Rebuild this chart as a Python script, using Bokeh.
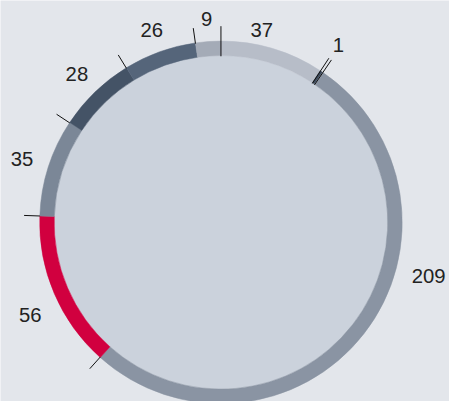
import math
from bokeh.plotting import figure
from bokeh.models import ColumnDataSource
from bokeh.embed import file_html
from bokeh.resources import INLINE
from bokeh.core.properties import value

# ---- data ----
slice_labels = ["37", "1", "209", "56", "35", "28", "26", "9"]
slice_values = [37, 1, 209, 56, 35, 28, 26, 9]
slice_colors = ["#b7bdc8", "#3f4d5f", "#8a94a3", "#d1003f",
                "#7b8797", "#445366", "#55657a", "#a4abb7"]

# ---- layout / style ----
BG = "#e3e6eb"
DISC = "#cbd2dc"
W, H = 449, 401                 # canvas size (fits the window with its margin)
VW, VH = 465.0, 417.0           # drawing units across the canvas
CX, CY = 228.3, 230.7           # ring centre in drawing units (from top-left)
SCALE = W / VW
R_OUT = 187.7
R_IN = R_OUT - 15
R_TICK = 204
FS = 21                         # font size in drawing units
THROUGH = {0, 1, 2}             # separators drawn across the ring
# label nudges for crowded / overflowing labels: index -> (angle delta deg, radius delta)
NUDGE = {0: (-4.7, -7), 1: (-0.3, 8), 2: (-23.5, 0), 3: (-3.0, 3)}

total = float(sum(slice_values))
starts, ends = [], []
acc = 0.0
for v in slice_values:
    starts.append(acc)
    acc += v / total * 360.0
    ends.append(acc)


def pol(theta_deg, r):
    t = math.radians(theta_deg)
    return r * math.sin(t), r * math.cos(t)


p = figure(width=W, height=H, x_range=(-CX, VW - CX), y_range=(CY - VH, CY),
           output_backend="svg", toolbar_location=None,
           x_axis_type=None, y_axis_type=None, min_border=0)
p.background_fill_color = BG
p.border_fill_color = BG
p.outline_line_color = None
p.grid.visible = False

# inner disc
p.circle(x=[0], y=[0], radius=R_IN, fill_color=DISC, line_color=None)

# ring
ring = ColumnDataSource(dict(
    start=[math.radians(90 - s) for s in starts],
    end=[math.radians(90 - e) for e in ends],
    color=slice_colors,
))
p.annular_wedge(x=0, y=0, inner_radius=R_IN, outer_radius=R_OUT,
                start_angle="start", end_angle="end", direction="clock",
                fill_color="color", line_color="color", line_width=0.5, source=ring)

# separator ticks
x0, y0, x1, y1 = [], [], [], []
for i, s in enumerate(starts):
    r0 = R_IN if i in THROUGH else R_OUT
    a, b = pol(s, r0)
    c, d = pol(s, R_TICK)
    x0.append(a); y0.append(b); x1.append(c); y1.append(d)
p.segment(x0=x0, y0=y0, x1=x1, y1=y1, line_color="#111111", line_width=1)

# labels
lx, ly = [], []
for i, lab in enumerate(slice_labels):
    mid = (starts[i] + ends[i]) / 2.0
    da, dr = NUDGE.get(i, (0.0, 0.0))
    th = mid + da
    w = len(lab) * 0.556 * FS
    h = 0.74 * FS
    t = math.radians(th)
    sx, cx = abs(math.sin(t)), abs(math.cos(t))
    ext = min((w / 2) / sx if sx > 1e-6 else 1e9, (h / 2) / cx if cx > 1e-6 else 1e9)
    px, py = pol(th, R_TICK + ext + dr)
    lx.append(px); ly.append(py)

p.text(x=lx, y=ly, text=slice_labels, text_align="center", text_baseline="middle",
       text_font=value("Liberation Sans"), text_font_size=f"{FS * SCALE:.1f}px",
       text_color="#222222")

html = file_html(p, INLINE)
html = html.replace("<body>", f'<body style="background:{BG}">', 1)
open("out.html", "w").write(html)
